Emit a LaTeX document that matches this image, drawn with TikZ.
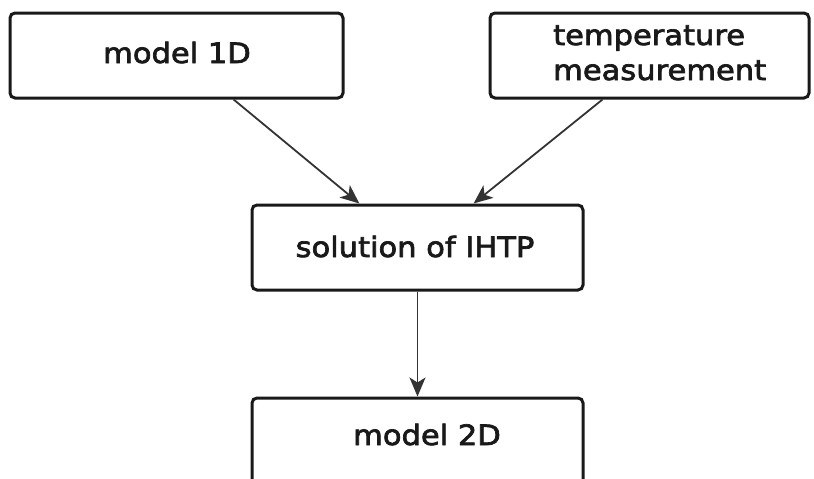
\documentclass[tikz,border=0pt]{standalone}
\usepackage{fontspec}
\setmainfont{DejaVu Sans}[FakeStretch=1.09,FakeBold=2.5]
\usetikzlibrary{arrows.meta,calc}
\tikzset{
  box/.style={draw=black!90, line width=3pt, rounded corners=5pt, fill=white, inner sep=0pt},
  lbl/.style={font=\fontsize{28}{34}\selectfont, inner sep=0pt, anchor=base, text=black!90},
  conn/.style={draw=black!80, line width=1.8pt, -{Stealth[length=19pt,width=16pt,inset=5pt]}}
}
\begin{document}
\begin{tikzpicture}[x=1pt,y=-1pt]
\useasboundingbox (0,0) rectangle (814,479);
\clip (0,0) rectangle (814,479);
\node[box, minimum width=333pt, minimum height=85pt] (m1d) at (176.5,55.5) {};
\node[box, minimum width=319pt, minimum height=85pt] (tm) at (649.5,55.5) {};
\node[box, minimum width=331pt, minimum height=85pt] (sol) at (417.5,247.5) {};
\node[box, minimum width=331pt, minimum height=160pt] (m2d) at (417.5,478) {};
\node[lbl] (l1) at (177,63) {model 1D};
\node[lbl, anchor=base west] (l2a) at (553,45) {temperature};
\node[lbl, anchor=base west] (l2b) at (553,80) {measurement};
\node[lbl] (l3) at (415,257) {solution of IHTP};
\node[lbl] (l4) at (427,445) {model 2D};
\draw[conn] ($(m1d.south west)!0.67!(m1d.south east)$) -- ($(sol.north west)!0.326!(sol.north east)$);
\draw[conn] ($(tm.south west)!0.354!(tm.south east)$) -- ($(sol.north west)!0.668!(sol.north east)$);
\draw[conn] (sol.south) -- (m2d.north);
\end{tikzpicture}
\end{document}
